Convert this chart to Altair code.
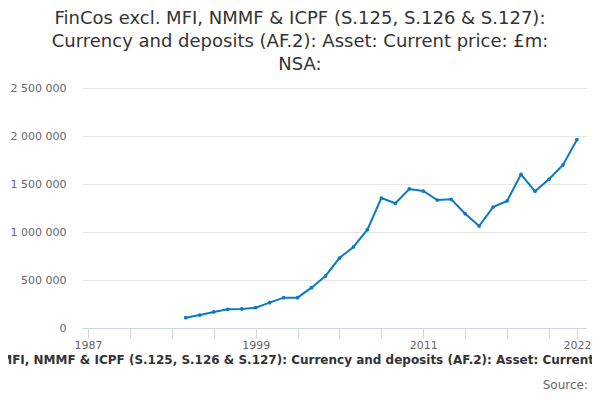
import altair as alt
import pandas as pd

years = list(range(1994, 2023))
values = [107000, 135000, 167000, 195000, 198000, 212000, 264000, 316000, 316000,
          420000, 542000, 729000, 844000, 1024000, 1354000, 1299000, 1448000, 1427000,
          1333000, 1340000, 1191000, 1062000, 1260000, 1323000, 1601000, 1424000,
          1549000, 1698000, 1962000]

title_lines = ["FinCos excl. MFI, NMMF & ICPF (S.125, S.126 & S.127):",
               "Currency and deposits (AF.2): Asset: Current price: £m:",
               "NSA:"]
x_title = "FinCos excl. MFI, NMMF & ICPF (S.125, S.126 & S.127): Currency and deposits (AF.2): Asset: Current price: £m: NSA:"
x_ticks = [1987, 1990, 1993, 1996, 1999, 2002, 2005, 2008, 2011, 2014, 2017, 2020, 2022]
x_labels = [1987, 1999, 2011, 2022]
y_ticks = [0, 500000, 1000000, 1500000, 2000000, 2500000]

df = pd.DataFrame({"year": years, "value": values})
src = pd.DataFrame({"t": ["Source:"]})

FONT = "DejaVu Sans"
label_test = " || ".join(f"datum.value == {v}" for v in x_labels)

line = alt.Chart(df).mark_line(
    color="#0a7bc3", strokeWidth=2,
    point=alt.OverlayMarkDef(color="#0a7bc3", size=14, filled=True, opacity=1)
).encode(
    x=alt.X("year:Q",
            scale=alt.Scale(domain=[1986.57, 2022.65], nice=False, zero=False),
            axis=alt.Axis(values=x_ticks, grid=False, domainColor="#ccd6eb",
                          tickColor="#ccd6eb", tickSize=10, labelFont=FONT,
                          labelFontSize=11, labelColor="#666666", labelPadding=1,
                          labelExpr=f"({label_test}) ? format(datum.value, 'd') : ''",
                          title=x_title, titleFont=FONT, titleFontSize=12,
                          titleFontWeight="bold", titleColor="#333333",
                          titlePadding=4, titleX=227)),
    y=alt.Y("value:Q",
            scale=alt.Scale(domain=[0, 2500000], nice=False),
            axis=alt.Axis(values=y_ticks, domain=False, ticks=False,
                          gridColor="#e6e6e6", labelFont=FONT, labelFontSize=11,
                          labelColor="#666666", labelPadding=16,
                          labelExpr="replace(format(datum.value, ','), regexp(',', 'g'), ' ')",
                          title=None))
)

source = alt.Chart(src).mark_text(
    align="right", baseline="middle", font=FONT, fontSize=12, color="#666666"
).encode(text="t:N", x=alt.value(506), y=alt.value(297))

chart = alt.layer(line, source).properties(
    width=504, height=240,
    padding={"left": 74, "top": 80, "right": 6, "bottom": 64},
    autosize=alt.AutoSizeParams(type="none"),
    title=alt.TitleParams(text=title_lines, font=FONT, fontSize=18,
                          fontWeight="normal", color="#333333", lineHeight=23,
                          anchor="middle", dx=-34, offset=8)
).configure_view(stroke=None)

chart.save("out.html", embed_options={"renderer": "svg", "actions": False})
